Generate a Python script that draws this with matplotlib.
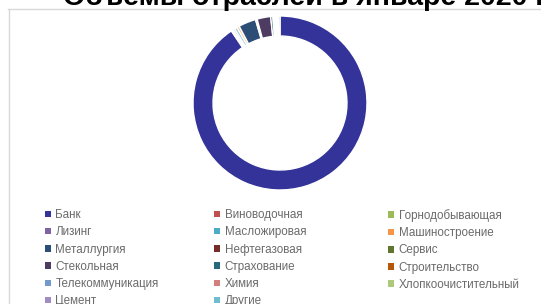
import matplotlib.pyplot as plt
from matplotlib.patches import Patch
from matplotlib.lines import Line2D

plt.rcParams["font.family"] = ["Liberation Sans", "DejaVu Sans"]

TITLE = "Объемы отраслей в январе 2020 г."

SECTORS = [
    "Банк", "Виноводочная", "Горнодобывающая",
    "Лизинг", "Масложировая", "Машиностроение",
    "Металлургия", "Нефтегазовая", "Сервис",
    "Стекольная", "Страхование", "Строительство",
    "Телекоммуникация", "Химия", "Хлопкоочистительный",
    "Цемент", "Другие",
]
SHARES = [
    89.7, 0.2, 0.2,
    0.3, 0.5, 0.45,
    3.2, 0.15, 0.15,
    2.5, 0.4, 0.2,
    0.2, 0.2, 0.2,
    0.2, 0.3,
]
COLORS = [
    "#333399", "#c0504d", "#9bbb59",
    "#8064a2", "#4bacc6", "#f79646",
    "#2c4d75", "#772c2a", "#5f7530",
    "#4d3b62", "#276a7c", "#b65708",
    "#729aca", "#d47f7d", "#afc97a",
    "#a08cc0", "#6fbdd1",
]

W, H = 541, 304
fig = plt.figure(figsize=(W / 100, H / 100), dpi=100)
fig.patch.set_facecolor("white")

# chart frame (only top and left edges fall inside the picture)
fig.add_artist(Line2D([8 / W, 1.0], [1 - 8.5 / H] * 2, color="#d9d9d9", lw=1))
fig.add_artist(Line2D([8.5 / W] * 2, [0.0, 1 - 8.5 / H], color="#d9d9d9", lw=1))

# title, clipped by the top edge
fig.text(63 / W, 1 - 5 / H, TITLE, fontsize=20.5, fontweight="bold",
         color="black", ha="left", va="baseline")

# donut (the two thin slices look washed out in the reference)
ring_colors = list(COLORS)
ring_colors[4], ring_colors[5] = "#93cddd", "#fac08f"
cx, cy, r = 280, 103, 87
ax = fig.add_axes([(cx - r) / W, (H - cy - r) / H, 2 * r / W, 2 * r / H])
ax.pie(SHARES, colors=ring_colors, startangle=90, counterclock=False, radius=1,
       wedgeprops=dict(width=0.23, edgecolor="white", linewidth=1.0))
ax.set_xlim(-1, 1)
ax.set_ylim(-1, 1)
ax.set_aspect("equal")
ax.axis("off")

# legend: three columns, filled row by row
col_x = [45, 214, 388]
for c in range(3):
    idx = list(range(c, len(SECTORS), 3))
    handles = [Patch(facecolor=COLORS[i], edgecolor="none") for i in idx]
    labels = [SECTORS[i] for i in idx]
    fig.legend(handles, labels, loc="upper left",
               bbox_to_anchor=(col_x[c] / W, 1 - 209 / H),
               frameon=False, fontsize=8.4, labelcolor="#6b6b6b",
               handlelength=0.55, handleheight=0.5, handletextpad=0.35,
               labelspacing=0.45, borderpad=0, borderaxespad=0)

fig.savefig("out.png", dpi=100, facecolor=fig.get_facecolor())
